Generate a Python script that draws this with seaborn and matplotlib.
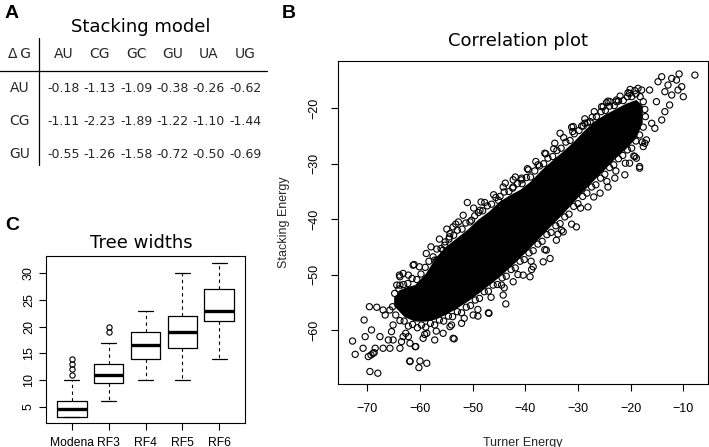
import matplotlib
matplotlib.use("Agg")
import matplotlib.pyplot as plt
import seaborn as sns

# ---------------- data ----------------
# Panel A: stacking energies (kcal/mol)
pair_cols = ["AU", "CG", "GC", "GU", "UA", "UG"]
pair_rows = ["AU", "CG", "GU"]
dg_au = [-0.18, -1.13, -1.09, -0.38, -0.26, -0.62]
dg_cg = [-1.11, -2.23, -1.89, -1.22, -1.10, -1.44]
dg_gu = [-0.55, -1.26, -1.58, -0.72, -0.50, -0.69]

# Panel B: scattered points (outer part of the cloud)
turner = [
    -72.8, -72.3, -70.6, -69.6, -68.2, -69.2, -70.4, -70.8, -69.8, -68.9,
    -68.5, -69.5, -68.0, -67.0, -66.6, -67.6, -67.0, -65.7, -66.0, -65.4,
    -65.1, -65.7, -63.8, -63.5, -61.9, -60.2, -58.7, -60.8, -57.2, -53.5,
    -63.8, -63.5, -62.2, -63.9, -61.3, -62.2, -59.4, -55.6, -54.3, -52.1,
    -49.9, -65.1, -69.3, -68.7,
    -51.0, -47.7, -45.1, -52.7, -50.2, -53.7, -54.4, -56.8, -55.6, -44.2,
    -42.3, -40.7, -48.6, -33.1, -34.1, -36.0, -36.6, -38.5, -40.4, -42.3,
    -44.5, -35.3, -39.1,
    -33.4, -30.9, -28.7, -36.3, -37.6, -39.4, -40.7, -34.4, -25.5, -23.9,
    -18.3, -18.9, -17.3, -21.1, -23.0, -24.3, -25.8, -28.1, -20.2,
    -7.8, -10.8, -12.2, -14.1, -14.8, -12.9, -11.3, -10.3, -11.0, -10.0,
    -13.5, -12.2, -12.6, -13.5, -15.1, -16.4, -17.9, -20.2, -22.7, -25.2,
    -15.4, -16.0, -17.0, -17.6, -18.3, -19.2, -14.1,
    -42.4, -31.2, -30.3, -32.8, -38.8, -44.2, -43.7, -46.9, -49.0, -60.0,
    -61.9, -61.1, -57.2, -55.7, -64.4, -63.8, -54.3, -55.3, -53.7, -47.0,
    -58.7, -61.9, -60.9, -63.2, -20.5, -19.2, -24.3, -22.7, -29.3, -27.7,
    # circles along the upper rim of the dense band
    -64.8, -64.0, -63.1, -62.3, -61.5, -60.6, -59.8, -59.0, -58.3, -57.5,
    -56.8, -56.0, -55.2, -54.5, -53.6, -52.9, -52.0, -51.3, -50.5, -49.6,
    -48.9, -48.1, -47.2, -46.4, -45.6, -44.8, -44.0, -43.1, -42.3, -41.5,
    -40.6, -39.8, -39.0, -38.2, -37.3, -36.5, -35.7, -34.8, -34.0, -33.2,
    -32.3, -31.5, -30.7, -29.8, -29.0, -28.2, -27.3, -26.5, -25.6, -24.8,
    -24.0, -23.1, -22.3, -21.4, -20.6, -19.8, -19.0, -18.2, -17.6,
    # circles along the lower rim of the dense band
    -65.2, -64.6, -63.8, -63.0, -62.2, -61.4, -60.5, -59.7, -58.9, -58.0,
    -57.2, -56.3, -55.5, -54.6, -53.8, -52.9, -52.1, -51.2, -50.4, -49.5,
    -48.7, -47.8, -47.0, -46.1, -45.3, -44.4, -43.6, -42.7, -41.9, -41.0,
    -40.2, -39.3, -38.5, -37.6, -36.8, -35.9, -35.1, -34.2, -33.4, -32.5,
    -31.7, -30.8, -30.0, -29.1, -28.3, -27.4, -26.6, -25.7, -24.9, -24.0,
    -23.2, -22.3, -21.5, -20.6, -19.8, -19.0, -18.3, -17.6, -17.2, -17.3,
    # looser circles just outside the rims
    -63.2, -60.1, -58.8, -57.9, -56.3, -54.9, -53.2, -51.8, -49.8, -48.4,
    -46.0, -43.8, -41.9, -39.6, -38.0, -36.1, -34.6, -32.7, -31.0, -28.7,
    -26.9, -24.6, -22.0, -20.1, -18.6,
    -62.7, -59.1, -56.9, -54.0, -51.6, -49.0, -46.5, -44.0, -41.4, -38.9,
    -36.3, -33.8, -31.2, -29.5, -27.0, -24.5, -22.8, -21.0, -19.4, -17.8,
]
stacking = [
    -62.0, -64.4, -58.2, -55.8, -55.9, -60.0, -61.2, -63.3, -64.8, -64.2,
    -63.3, -67.5, -67.8, -56.4, -57.3, -61.2, -63.3, -63.3, -61.8, -60.3,
    -59.1, -56.4, -63.3, -62.1, -65.7, -66.8, -66.0, -63.0, -61.8, -61.6,
    -51.9, -53.4, -50.1, -50.1, -48.3, -61.2, -61.5, -60.6, -59.4, -58.8,
    -57.3, -61.8, -64.5, -64.1,
    -37.0, -37.0, -36.6, -40.5, -40.2, -41.4, -43.2, -47.4, -45.6, -34.2,
    -32.9, -32.6, -38.4, -42.0, -43.8, -45.6, -47.7, -48.6, -50.1, -51.3,
    -51.9, -47.1, -50.4,
    -24.5, -23.3, -22.7, -28.1, -30.2, -31.1, -32.9, -26.3, -19.7, -18.8,
    -30.8, -29.0, -26.3, -32.0, -32.6, -34.2, -35.3, -37.8, -29.9,
    -14.0, -13.8, -14.6, -14.3, -15.2, -15.8, -14.9, -16.1, -16.7, -17.9,
    -17.0, -17.6, -19.4, -20.6, -18.8, -16.7, -16.7, -17.3, -18.8, -19.7,
    -23.6, -22.7, -25.7, -26.9, -30.5, -28.7, -22.1,
    -34.4, -23.4, -41.4, -42.3, -49.1, -53.7, -55.3, -57.0, -57.5, -65.6,
    -65.6, -48.2, -47.4, -47.7, -51.9, -50.4, -42.6, -44.7, -61.5, -56.9,
    -60.6, -62.4, -63.0, -61.2, -17.2, -16.8, -18.7, -18.5, -23.2, -22.4,
    # upper rim
    -53.4, -52.6, -51.8, -51.6, -50.7, -50.9, -49.9, -48.7, -47.6, -46.8,
    -45.4, -45.3, -44.1, -43.6, -42.9, -42.0, -41.8, -40.7, -40.5, -39.4,
    -38.8, -38.5, -37.6, -37.3, -36.1, -35.9, -35.1, -35.0, -34.2, -33.6,
    -33.6, -32.5, -32.4, -31.3, -30.4, -30.0, -29.0, -28.7, -27.6, -27.2,
    -26.1, -25.8, -24.6, -24.0, -23.2, -22.6, -21.6, -21.5, -20.6, -20.4,
    -19.6, -19.5, -18.7, -18.6, -17.9, -17.9, -17.4, -17.9, -18.8,
    # lower rim
    -55.8, -57.3, -58.3, -58.4, -59.3, -59.0, -59.6, -59.1, -59.5, -58.8,
    -59.1, -58.2, -58.4, -57.5, -57.6, -56.7, -56.9, -55.9, -55.6, -54.6,
    -54.3, -53.1, -53.0, -51.9, -51.8, -50.6, -50.3, -49.1, -48.8, -47.6,
    -47.3, -46.1, -45.7, -44.5, -44.0, -42.8, -42.4, -41.2, -40.8, -39.6,
    -39.1, -37.7, -37.2, -35.9, -35.3, -34.2, -33.8, -32.6, -31.9, -30.7,
    -30.2, -29.1, -28.5, -27.5, -27.2, -25.9, -24.8, -23.4, -21.5, -20.2,
    # looser circles
    -49.8, -48.6, -46.2, -45.0, -43.6, -41.8, -40.9, -39.3, -38.0, -36.9,
    -35.6, -33.5, -32.4, -30.9, -29.6, -28.2, -27.3, -25.3, -24.2, -21.9,
    -20.6, -19.0, -17.8, -16.6, -16.4,
    -60.6, -60.8, -60.2, -59.1, -57.9, -56.3, -54.1, -52.4, -50.0, -47.6,
    -45.5, -42.7, -40.9, -38.0, -36.0, -33.2, -31.3, -29.9, -28.6, -26.1,
]
# Panel B: envelope of the solid (overplotted) core of the cloud
core_turner = [-65.0, -63.0, -61.0, -59.0, -57.0, -55.0, -53.0, -51.0, -49.0,
               -47.0, -45.0, -43.0, -41.0, -39.0, -37.0, -35.0, -33.0, -31.0,
               -29.0, -27.0, -25.0, -23.0, -21.0, -19.0, -17.8]
core_high = [-54.0, -52.3, -51.8, -49.8, -46.8, -44.8, -43.3, -41.8, -40.0,
             -38.6, -36.8, -35.6, -34.6, -33.1, -31.1, -29.4, -27.8, -26.1,
             -24.1, -22.3, -21.1, -20.1, -19.1, -18.4, -19.5]
core_low = [-55.6, -57.6, -58.4, -58.4, -58.0, -57.1, -56.0, -54.8, -53.4,
            -51.9, -50.4, -48.7, -46.9, -45.0, -43.0, -41.0, -39.1, -37.0,
            -34.9, -32.9, -31.0, -29.0, -27.3, -25.3, -22.5]

# Panel C: tree width box statistics
groups = ["Modena", "RF3", "RF4", "RF5", "RF6"]
whis_lo = [3, 6, 10, 10, 14]
q_low = [3, 9.5, 14, 16, 21]
medians = [4.5, 11, 16.5, 19, 23]
q_high = [6, 13, 19, 22, 27]
whis_hi = [10, 17, 23, 30, 32]
outliers = [[11, 12, 13, 14], [19, 20], [], [], []]

# ---------------- style ----------------
sns.set_theme(style="ticks")
plt.rcParams["font.family"] = ["Liberation Sans", "DejaVu Sans"]
plt.rcParams.update({"axes.edgecolor": "black", "axes.linewidth": 0.8,
                     "xtick.color": "black", "ytick.color": "black"})

W, H = 709, 447
fig = plt.figure(figsize=(W / 100, H / 100), dpi=100)

# overlay in pixel coordinates for the table, titles and panel letters
ov = fig.add_axes([0, 0, 1, 1])
ov.set_xlim(0, W)
ov.set_ylim(H, 0)
ov.axis("off")

title_font = dict(family="DejaVu Sans", fontsize=13, color="black")
letter_font = dict(family="Liberation Sans", fontsize=14, fontweight="bold", color="black")

# ---------------- panel A: table ----------------
ov.text(5, 18.3, "A", va="baseline", ha="left", **letter_font)
ov.text(141, 32.3, "Stacking model", ha="center", va="baseline", **title_font)

col_x = [63.5 + 36.3 * j for j in range(len(pair_cols))]
row_y = [92.3 + 33 * i for i in range(len(pair_rows))]
ov.text(19, 58.3, "\u0394\u2009G", ha="center", va="baseline", family="DejaVu Sans", fontsize=10)
for x, name in zip(col_x, pair_cols):
    ov.text(x, 58.3, name, ha="center", va="baseline", family="DejaVu Sans", fontsize=10)
for y, name, vals in zip(row_y, pair_rows, [dg_au, dg_cg, dg_gu]):
    ov.text(20, y, name, ha="center", va="baseline", family="DejaVu Sans", fontsize=10)
    for x, v in zip(col_x, vals):
        ov.text(x, y, f"{v:.2f}", ha="center", va="baseline", family="DejaVu Sans", fontsize=9)
ov.plot([39.3, 39.3], [38, 165], color="black", lw=0.9)
ov.plot([0, 267], [71, 71], color="black", lw=0.9)

# ---------------- panel B: correlation scatter ----------------
ov.text(282, 18.3, "B", va="baseline", ha="left", **letter_font)
ov.text(517.5, 45.7, "Correlation plot", ha="center", va="baseline", **title_font)

ax_b = fig.add_axes([338 / W, 1 - 384 / H, 370 / W, 323 / H])
ax_b.fill_between(core_turner, core_low, core_high, color="black", lw=0, zorder=1)
sns.scatterplot(x=turner, y=stacking, ax=ax_b, s=20, marker="o",
                facecolor="none", edgecolor="black", linewidth=0.8, zorder=2)
ax_b.set_xlim(-75.56, -5.31)
ax_b.set_ylim(-69.75, -11.46)
ax_b.set_xticks([-70, -60, -50, -40, -30, -20, -10])
ax_b.set_yticks([-60, -50, -40, -30, -20])
ax_b.tick_params(axis="both", direction="out", length=5, width=0.8, labelsize=9)
ax_b.tick_params(axis="x", pad=8.5)
ax_b.tick_params(axis="y", pad=7.4, labelrotation=90)
plt.setp(ax_b.get_yticklabels(), va="center")
ax_b.set_xlabel("Turner Energy", fontsize=9)
ax_b.set_ylabel("Stacking Energy", fontsize=9)
ax_b.xaxis.set_label_coords(0.5, (384 - 436.7) / 323)
ax_b.yaxis.set_label_coords((290 - 338) / 370, 0.5)

# ---------------- panel C: tree widths ----------------
ov.text(5, 230, "C", va="baseline", ha="left", **letter_font)
ov.text(141.7, 248.3, "Tree widths", ha="center", va="baseline", **title_font)

ax_c = fig.add_axes([46 / W, 1 - 423.3 / H, 199 / W, 167.3 / H])
stats = [dict(label=g, whislo=a, q1=b, med=c, q3=d, whishi=e, fliers=f)
         for g, a, b, c, d, e, f in zip(groups, whis_lo, q_low, medians,
                                         q_high, whis_hi, outliers)]
ax_c.bxp(stats, positions=range(len(groups)), widths=0.8, capwidths=0.4,
         boxprops=dict(color="black", lw=0.9),
         whiskerprops=dict(color="black", lw=0.8, linestyle=(0, (3, 3))),
         capprops=dict(color="black", lw=0.9),
         medianprops=dict(color="black", lw=2.4, solid_capstyle="butt"),
         flierprops=dict(marker="o", markerfacecolor="none", markeredgecolor="black",
                         markersize=3.8, markeredgewidth=0.8))
ax_c.set_xlim(-0.7, len(groups) - 0.3)
ax_c.set_ylim(1.88, 33.25)
ax_c.set_yticks([5, 10, 15, 20, 25, 30])
ax_c.tick_params(axis="both", direction="out", length=5, width=0.8)
ax_c.tick_params(axis="x", pad=4.8, labelsize=8.7)
ax_c.tick_params(axis="y", pad=3, labelsize=9, labelrotation=90)
plt.setp(ax_c.get_yticklabels(), va="center")

fig.savefig("out.png", dpi=100)
